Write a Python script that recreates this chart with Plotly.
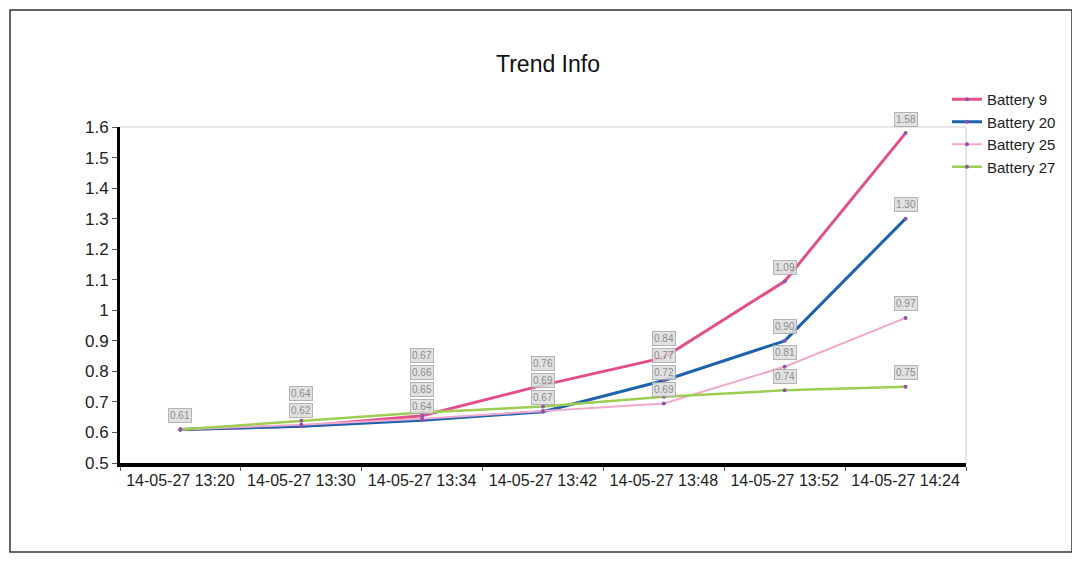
import plotly.graph_objects as go

categories = ["14-05-27 13:20", "14-05-27 13:30", "14-05-27 13:34", "14-05-27 13:42",
              "14-05-27 13:48", "14-05-27 13:52", "14-05-27 14:24"]
battery_9 = [0.61, 0.62, 0.655, 0.755, 0.845, 1.095, 1.58]
battery_20 = [0.61, 0.62, 0.64, 0.668, 0.77, 0.90, 1.30]
battery_25 = [0.61, 0.625, 0.645, 0.67, 0.695, 0.815, 0.975]
battery_27 = [0.61, 0.638, 0.665, 0.685, 0.717, 0.738, 0.75]
series_names = ["Battery 9", "Battery 20", "Battery 25", "Battery 27"]
series_values = [battery_9, battery_20, battery_25, battery_27]
y_min, y_max = 0.5, 1.6

line_colors = ["#e2508c", "#1c62ad", "#f2a8cb", "#9dcd52"]
line_widths = [3, 3, 2, 2.5]
marker_color = "#8b57a9"

# page has an 8px body margin: work in figure coordinates = page - 8
OFF = 8
W, H = 1066, 549
L, R, T, B = 120 - OFF, 966 - OFF, 127 - OFF, 463 - OFF

fig = go.Figure()
for name, vals, col, w in zip(series_names, series_values, line_colors, line_widths):
    fig.add_trace(go.Scatter(
        x=categories, y=vals, name=name, mode="lines+markers",
        line=dict(color=col, width=w),
        marker=dict(color=marker_color, size=4),
    ))

# data labels (grey boxes above points), stacked so they do not overlap
px_per_unit = (B - T) / (y_max - y_min)
for i, c in enumerate(categories):
    labels = sorted({round(vals[i], 2): max(s[i] for s in series_values if round(s[i], 2) == round(vals[i], 2))
                     for vals in series_values}.items())
    prev_center = -1e9
    for lab, v in labels:
        vpx = (v - y_min) * px_per_unit
        center = max(vpx + 14, prev_center + 17)
        prev_center = center
        fig.add_annotation(x=c, y=v, text=f"{lab:.2f}", showarrow=False, yshift=center - vpx,
                           font=dict(size=10, color="#7a7a7a", family="Liberation Sans"),
                           bgcolor="#dcdcdc", bordercolor="#a8a8a8", borderwidth=1,
                           borderpad=1, opacity=0.85)

def px(x):
    return (x - L) / (R - L)
def py(y):
    return (B - y) / (B - T)

shapes = [
    dict(type="rect", xref="paper", yref="paper", x0=px(2), x1=px(1064), y0=py(544), y1=py(2),
         line=dict(color="#333", width=1.5), layer="below"),
    dict(type="line", xref="paper", yref="paper", x0=0, x1=1, y0=1, y1=1,
         line=dict(color="#cfcfcf", width=1), layer="below"),
    dict(type="line", xref="paper", yref="paper", x0=1, x1=1, y0=0, y1=1,
         line=dict(color="#cfcfcf", width=1), layer="below"),
]

fig.update_layout(
    width=W, height=H,
    margin=dict(l=L, r=W - R, t=T, b=H - B, pad=0),
    paper_bgcolor="white", plot_bgcolor="white",
    font=dict(family="Liberation Sans, Arial, sans-serif", color="#222"),
    title=dict(text="Trend Info", x=(548 - OFF) / W, xanchor="center", y=1 - (64 - OFF) / H,
               yanchor="middle", yref="container", font=dict(size=23, color="#111")),
    legend=dict(x=px(939), y=py(75), xanchor="left", yanchor="top",
                font=dict(size=15, color="#222"), bgcolor="rgba(0,0,0,0)",
                tracegroupgap=0, itemwidth=30),
    showlegend=True,
    shapes=shapes,
    xaxis=dict(type="category", showgrid=False, showline=True, linecolor="black", linewidth=4,
               ticks="outside", tickson="boundaries", ticklen=4, tickcolor="#555",
               tickfont=dict(size=16, color="#222"), range=[-0.5, 6.5], zeroline=False),
    yaxis=dict(range=[y_min, y_max], dtick=0.1, tick0=0.5, showgrid=False, showline=True,
               linecolor="black", linewidth=3, ticks="outside", ticklen=5, tickcolor="#555",
               tickfont=dict(size=17, color="#222"), zeroline=False),
)

fig.write_html("out.html")
